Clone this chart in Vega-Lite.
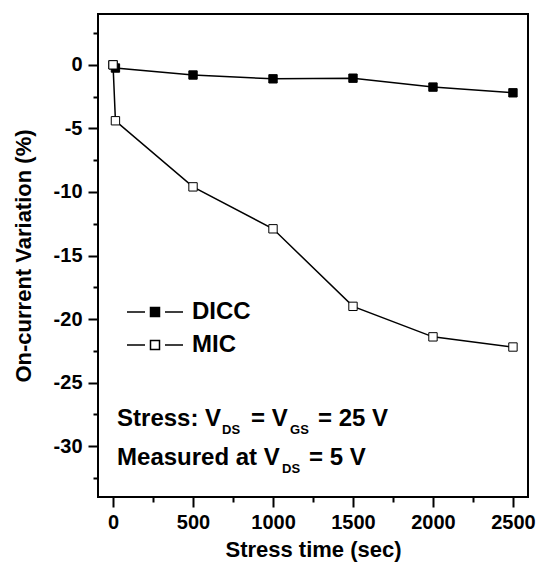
{
  "$schema": "https://vega.github.io/schema/vega-lite/v6.json",
  "autosize": "none",
  "width": 430,
  "height": 483,
  "padding": {"left": 98, "top": 14, "right": 10, "bottom": 76},
  "background": "white",
  "config": {
    "view": {"stroke": "black", "strokeWidth": 2},
    "font": "Liberation Sans",
    "axis": {"grid": false, "domain": false, "tickColor": "black", "tickWidth": 2, "labelColor": "black", "titleColor": "black", "labelFont": "Liberation Sans", "titleFont": "Liberation Sans", "labelFontWeight": "bold", "titleFontWeight": "bold"}
  },
  "data": {
    "values": [
      {"series": "DICC", "time": 0, "variation": 0},
      {"series": "DICC", "time": 15, "variation": -0.25},
      {"series": "DICC", "time": 500, "variation": -0.8},
      {"series": "DICC", "time": 1000, "variation": -1.1},
      {"series": "DICC", "time": 1500, "variation": -1.05},
      {"series": "DICC", "time": 2000, "variation": -1.75},
      {"series": "DICC", "time": 2500, "variation": -2.2},
      {"series": "MIC", "time": 0, "variation": 0},
      {"series": "MIC", "time": 15, "variation": -4.4},
      {"series": "MIC", "time": 500, "variation": -9.6},
      {"series": "MIC", "time": 1000, "variation": -12.9},
      {"series": "MIC", "time": 1500, "variation": -19.0},
      {"series": "MIC", "time": 2000, "variation": -21.4},
      {"series": "MIC", "time": 2500, "variation": -22.2}
    ]
  },
  "resolve": {"axis": {"x": "independent", "y": "independent"}},
  "layer": [
    {
      "mark": {"type": "line", "color": "black", "strokeWidth": 1.5},
      "encoding": {
        "x": {"field": "time", "type": "quantitative", "scale": {"domain": [-94, 2594], "nice": false, "zero": false},
              "axis": {"orient": "bottom", "values": [0, 250, 500, 750, 1000, 1250, 1500, 1750, 2000, 2250, 2500], "tickCount": 50, "tickSize": 10,
                       "encoding": {"ticks": {"y2": {"condition": {"test": "abs(datum.value % 500) < 0.01", "value": 10}, "value": 5}}},
                       "labelExpr": "abs(datum.value % 500) < 0.01 ? toString(datum.value) : ''",
                       "labelFontSize": 20, "labelPadding": 5, "labelFlush": false, "labelOverlap": false,
                       "title": "Stress time (sec)", "titleFontSize": 22, "titlePadding": 7}},
        "y": {"field": "variation", "type": "quantitative", "scale": {"domain": [-34, 4], "nice": false, "zero": false},
              "axis": {"orient": "left", "values": [2.5, 0, -2.5, -5, -7.5, -10, -12.5, -15, -17.5, -20, -22.5, -25, -27.5, -30, -32.5], "tickCount": 50, "tickSize": 10,
                       "encoding": {"ticks": {"x2": {"condition": {"test": "abs(datum.value % 5) < 0.01", "value": -10}, "value": -5}}},
                       "labelExpr": "abs(datum.value % 5) < 0.01 ? toString(datum.value) : ''",
                       "labelFontSize": 20, "labelPadding": 6, "labelFlush": false, "labelOverlap": false,
                       "title": "On-current Variation (%)", "titleFontSize": 22, "titlePadding": 18}},
        "detail": {"field": "series"}
      }
    },
    {
      "mark": {"type": "point", "shape": "square", "filled": true, "size": 70, "stroke": "black", "strokeWidth": 1, "opacity": 1},
      "encoding": {
        "x": {"field": "time", "type": "quantitative", "axis": null},
        "y": {"field": "variation", "type": "quantitative", "axis": null},
        "fill": {"field": "series", "type": "nominal", "scale": {"domain": ["DICC", "MIC"], "range": ["black", "white"]},
                 "legend": {"orient": "none", "legendX": 45, "legendY": 286, "title": null, "padding": 0,
                            "symbolType": "M-2.8,0H-1M1,0H2.8M-0.45,-0.45H0.45V0.45H-0.45Z",
                            "symbolSize": 400, "symbolStrokeColor": "black", "symbolStrokeWidth": 1.5,
                            "labelFont": "Liberation Sans", "labelFontSize": 24, "labelFontWeight": "bold", "labelColor": "black",
                            "labelOffset": 25, "rowPadding": 9}}
      }
    },
    {
      "data": {"values": [{}]},
      "mark": {"type": "text", "text": "Stress: V", "align": "left", "baseline": "alphabetic", "fontSize": 24, "fontWeight": "bold", "color": "black"},
      "encoding": {"x": {"datum": 25, "type": "quantitative", "axis": null}, "y": {"datum": -28.4, "type": "quantitative", "axis": null}}
    },
    {
      "data": {"values": [{}]},
      "mark": {"type": "text", "text": "DS", "align": "left", "baseline": "alphabetic", "fontSize": 13, "fontWeight": "bold", "color": "black", "dx": 105, "dy": 8},
      "encoding": {"x": {"datum": 25, "type": "quantitative", "axis": null}, "y": {"datum": -28.4, "type": "quantitative", "axis": null}}
    },
    {
      "data": {"values": [{}]},
      "mark": {"type": "text", "text": "= V", "align": "left", "baseline": "alphabetic", "fontSize": 24, "fontWeight": "bold", "color": "black", "dx": 134},
      "encoding": {"x": {"datum": 25, "type": "quantitative", "axis": null}, "y": {"datum": -28.4, "type": "quantitative", "axis": null}}
    },
    {
      "data": {"values": [{}]},
      "mark": {"type": "text", "text": "GS", "align": "left", "baseline": "alphabetic", "fontSize": 13, "fontWeight": "bold", "color": "black", "dx": 173, "dy": 8},
      "encoding": {"x": {"datum": 25, "type": "quantitative", "axis": null}, "y": {"datum": -28.4, "type": "quantitative", "axis": null}}
    },
    {
      "data": {"values": [{}]},
      "mark": {"type": "text", "text": "= 25 V", "align": "left", "baseline": "alphabetic", "fontSize": 24, "fontWeight": "bold", "color": "black", "dx": 201},
      "encoding": {"x": {"datum": 25, "type": "quantitative", "axis": null}, "y": {"datum": -28.4, "type": "quantitative", "axis": null}}
    },
    {
      "data": {"values": [{}]},
      "mark": {"type": "text", "text": "Measured at V", "align": "left", "baseline": "alphabetic", "fontSize": 24, "fontWeight": "bold", "color": "black"},
      "encoding": {"x": {"datum": 25, "type": "quantitative", "axis": null}, "y": {"datum": -31.5, "type": "quantitative", "axis": null}}
    },
    {
      "data": {"values": [{}]},
      "mark": {"type": "text", "text": "DS", "align": "left", "baseline": "alphabetic", "fontSize": 13, "fontWeight": "bold", "color": "black", "dx": 165, "dy": 8},
      "encoding": {"x": {"datum": 25, "type": "quantitative", "axis": null}, "y": {"datum": -31.5, "type": "quantitative", "axis": null}}
    },
    {
      "data": {"values": [{}]},
      "mark": {"type": "text", "text": "= 5 V", "align": "left", "baseline": "alphabetic", "fontSize": 24, "fontWeight": "bold", "color": "black", "dx": 192},
      "encoding": {"x": {"datum": 25, "type": "quantitative", "axis": null}, "y": {"datum": -31.5, "type": "quantitative", "axis": null}}
    }
  ]
}
